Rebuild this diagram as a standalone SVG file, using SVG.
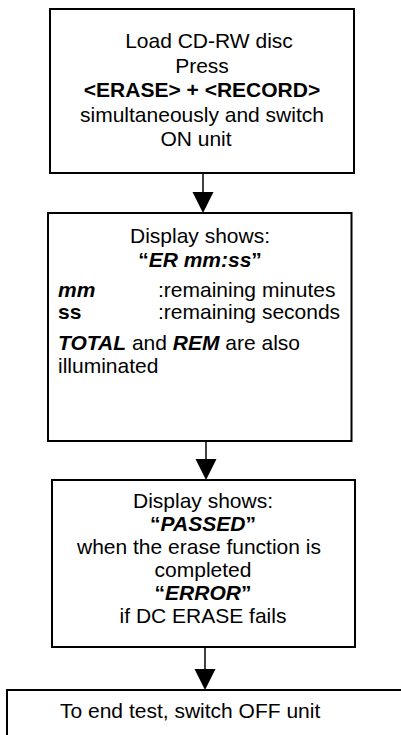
<svg xmlns="http://www.w3.org/2000/svg" width="401" height="735" viewBox="0 0 401 735">
<style>
.box{fill:#fff;stroke:#000;stroke-width:2}
.t{font-family:"Liberation Sans",Arial,Helvetica,sans-serif;font-size:21px;fill:#000}
.c{text-anchor:middle}
.b{font-weight:bold}
.bi{font-weight:bold;font-style:italic}
.ln{stroke:#000;stroke-width:1.5;fill:none}
.ah{fill:#000}
</style>
<rect width="401" height="735" fill="#fff"/>
<g id="node1">
<rect class="box" x="50" y="9" width="304" height="164"/>
<text class="t c" x="209" y="48">Load CD-RW disc</text>
<text class="t c" x="202" y="72.5">Press</text>
<text class="t c b" x="202" y="97">&lt;ERASE&gt; + &lt;RECORD&gt;</text>
<text class="t c" x="202" y="121.5">simultaneously and switch</text>
<text class="t c" x="196" y="146">ON unit</text>
</g>
<g id="node2">
<rect class="box" x="48" y="213" width="303.5" height="228"/>
<text class="t c" x="200" y="243">Display shows:</text>
<text class="t c" x="200" y="267"><tspan class="b">“</tspan><tspan class="bi">ER mm:ss</tspan><tspan class="b">”</tspan></text>
<text class="t bi" x="58" y="297">mm</text>
<text class="t" x="158" y="297">:remaining minutes</text>
<text class="t b" x="58" y="319">ss</text>
<text class="t" x="158" y="319">:remaining seconds</text>
<text class="t" x="58" y="350"><tspan class="bi">TOTAL</tspan> and <tspan class="bi">REM</tspan> are also</text>
<text class="t" x="58" y="373">illuminated</text>
</g>
<g id="node3">
<rect class="box" x="52" y="480" width="303" height="167"/>
<text class="t c" x="203" y="508">Display shows:</text>
<text class="t c" x="203" y="531"><tspan class="b">“</tspan><tspan class="bi">PASSED</tspan><tspan class="b">”</tspan></text>
<text class="t c" x="199" y="554">when the erase function is</text>
<text class="t c" x="203" y="577">completed</text>
<text class="t c" x="203" y="600"><tspan class="b">“</tspan><tspan class="bi">ERROR</tspan><tspan class="b">”</tspan></text>
<text class="t c" x="203" y="623">if DC ERASE fails</text>
</g>
<g id="node4">
<rect class="box" x="7" y="690" width="420" height="80"/>
<text class="t" x="60" y="718">To end test, switch OFF unit</text>
</g>
<g id="connectors">
<line class="ln" x1="203" y1="173" x2="203" y2="193"/>
<polygon class="ah" points="192.5,192 213.5,192 203,213"/>
<line class="ln" x1="206" y1="441" x2="206" y2="460"/>
<polygon class="ah" points="195.5,459 216.5,459 206,480"/>
<line class="ln" x1="205" y1="647" x2="205" y2="670"/>
<polygon class="ah" points="194.5,669 215.5,669 205,690"/>
</g>
</svg>
